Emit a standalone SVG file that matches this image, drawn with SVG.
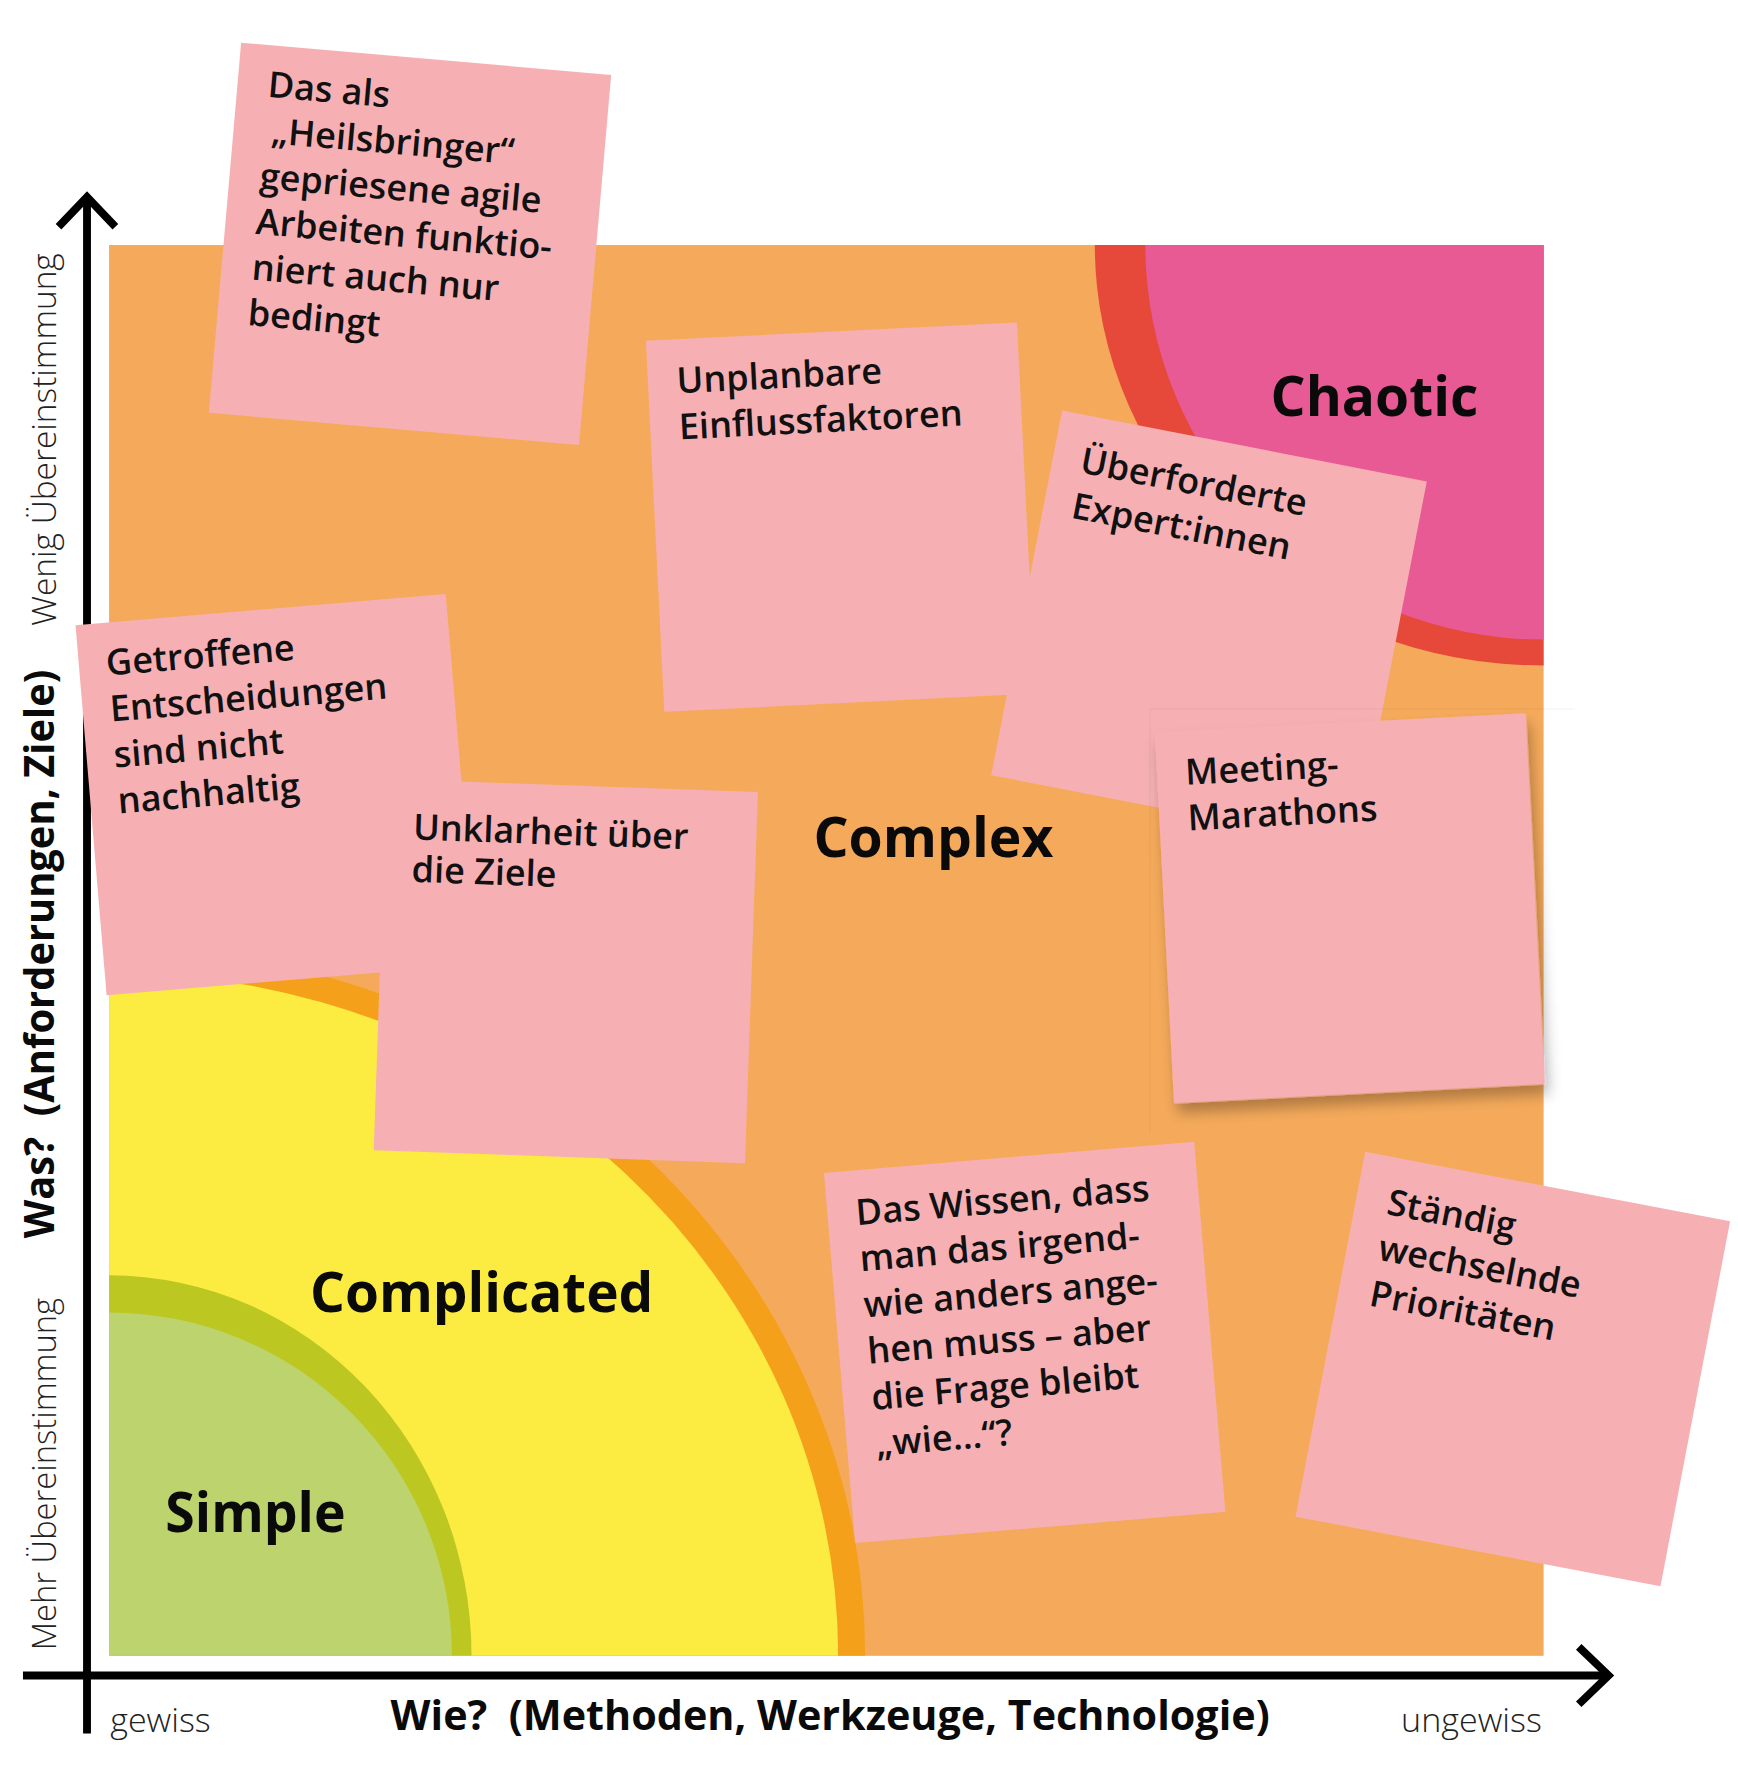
<svg xmlns="http://www.w3.org/2000/svg" width="1738" height="1765" viewBox="0 0 1738 1765">
<style>
.note{fill:#F6B0B4}
.nt{font-family:"Open Sans","Liberation Sans",sans-serif;font-weight:600;font-size:32px;fill:#111}
.region{font-family:"Open Sans","Liberation Sans",sans-serif;font-weight:700;font-size:50px;fill:#0a0a0a}
.axisl{font-family:"Open Sans","Liberation Sans",sans-serif;font-weight:300;font-size:29px;fill:#222}
.axisb{font-family:"Open Sans","Liberation Sans",sans-serif;font-weight:700;font-size:37px;fill:#0a0a0a}
.ax{fill:none;stroke:#000;stroke-width:7}
</style>
<defs>
<clipPath id="plot"><rect x="96.9" y="217.7" width="1274.4" height="1253.3"/></clipPath>
<filter id="shadow" x="-20%" y="-20%" width="140%" height="140%">
<feDropShadow dx="3" dy="9" stdDeviation="6" flood-color="#000" flood-opacity="0.28"/>
</filter>
</defs>
<rect width="1738" height="1765" fill="#fff"/>
<g transform="scale(1.12565)">
<g id="plot-area">
<rect x="96.9" y="217.7" width="1274.4" height="1253.3" fill="#F5AA5B"/>
<g clip-path="url(#plot)">
<ellipse cx="1371.3" cy="217.7" rx="398.7" ry="373.5" fill="#E6493A"/>
<ellipse cx="1371.3" cy="217.7" rx="353.8" ry="350.5" fill="#E85A94"/>
<ellipse cx="96.9" cy="1471" rx="671.7" ry="630" fill="#F5A01B"/>
<ellipse cx="96.9" cy="1471" rx="647.7" ry="607" fill="#FCEC41"/>
<ellipse cx="96.9" cy="1471" rx="322" ry="338" fill="#BCC821"/>
<ellipse cx="96.9" cy="1471" rx="304.6" ry="305" fill="#BDD36D"/>
</g>
</g>
<g id="axes">
<line class="ax" x1="77.3" y1="176" x2="77.3" y2="1540"/>
<polyline class="ax" points="52,201.5 77.3,175 102.5,201.5"/>
<line class="ax" x1="20.4" y1="1488.5" x2="1428" y2="1488.5"/>
<polyline class="ax" points="1402.5,1463 1429,1488.5 1402.5,1514"/>
</g>
<g id="axis-labels">
<text class="axisl" transform="translate(49.5,556) rotate(-90)" textLength="331" lengthAdjust="spacingAndGlyphs">Wenig Übereinstimmung</text>
<text class="axisl" transform="translate(49.5,1466) rotate(-90)" textLength="313" lengthAdjust="spacingAndGlyphs">Mehr Übereinstimmung</text>
<text class="axisb" transform="translate(48.4,1100) rotate(-90)" xml:space="preserve" textLength="505" lengthAdjust="spacingAndGlyphs">Was?  (Anforderungen, Ziele)</text>
<text class="axisl" x="97.9" y="1539" textLength="89.3" lengthAdjust="spacingAndGlyphs">gewiss</text>
<text class="axisl" x="1244.7" y="1538.6" textLength="125" lengthAdjust="spacingAndGlyphs">ungewiss</text>
<text class="axisb" x="347" y="1537.3" xml:space="preserve" textLength="781" lengthAdjust="spacingAndGlyphs">Wie?  (Methoden, Werkzeuge, Technologie)</text>
</g>
<g id="region-labels">
<text id="chaotic" class="region" x="1128.7" y="369.8" textLength="184.6" lengthAdjust="spacingAndGlyphs">Chaotic</text>
<text id="complex" class="region" x="722.6" y="761.6" textLength="213.2" lengthAdjust="spacingAndGlyphs">Complex</text>
<text id="complicated" class="region" x="275.4" y="1165.2" textLength="305" lengthAdjust="spacingAndGlyphs">Complicated</text>
<text id="simple" class="region" x="146.9" y="1361.4" textLength="160.1" lengthAdjust="spacingAndGlyphs">Simple</text>
</g>
<g id="note-heilsbringer" transform="translate(214.2,37.9) rotate(4.98)">
<rect class="note" width="330" height="330"/>
<text class="nt" x="27" y="46">Das als</text>
<text class="nt" x="34" y="86.7">„Heilsbringer“</text>
<text class="nt" x="27" y="127.4">gepriesene agile</text>
<text class="nt" x="27" y="168.1">Arbeiten funktio-</text>
<text class="nt" x="27" y="208.8">niert auch nur</text>
<text class="nt" x="27" y="249.5">bedingt</text>
</g>
<g id="note-unplanbar" transform="translate(573.8,302.8) rotate(-2.85)">
<rect class="note" width="330" height="330"/>
<text class="nt" x="25.5" y="48">Unplanbare</text>
<text class="nt" x="25.5" y="89">Einflussfaktoren</text>
</g>
<g id="note-ueberfordert" transform="translate(943.6,364.7) rotate(11)">
<rect class="note" width="330" height="330"/>
<text class="nt" x="25" y="51">Überforderte</text>
<text class="nt" x="25" y="92">Expert:innen</text>
</g>
<g id="note-meeting">
<path d="M1399,630 H1021.7 V1006" fill="none" stroke="#000" stroke-opacity="0.045" stroke-width="1"/>
<g transform="translate(1026,650.6) rotate(-2.95)">
<rect class="note" width="330" height="330" filter="url(#shadow)"/>
<text class="nt" x="25" y="48">Meeting-</text>
<text class="nt" x="25" y="88.5">Marathons</text>
</g>
</g>
<g id="note-entscheidungen" transform="translate(67.1,555.4) rotate(-4.8)">
<rect class="note" width="330" height="330"/>
<text class="nt" x="24.2" y="47">Getroffene</text>
<text class="nt" x="24.2" y="88">Entscheidungen</text>
<text class="nt" x="24.2" y="129">sind nicht</text>
<text class="nt" x="24.2" y="170">nachhaltig</text>
</g>
<g id="note-ziele" transform="translate(343.5,692) rotate(2)">
<rect class="note" width="330" height="330"/>
<text class="nt" x="25" y="53">Unklarheit über</text>
<text class="nt" x="25" y="90.6">die Ziele</text>
</g>
<g id="note-wissen" transform="translate(732,1042) rotate(-4.82)">
<rect class="note" width="330" height="330"/>
<text class="nt" x="25.2" y="48.7">Das Wissen, dass</text>
<text class="nt" x="25.2" y="89.9">man das irgend-</text>
<text class="nt" x="25.2" y="131.1">wie anders ange-</text>
<text class="nt" x="25.2" y="172.3">hen muss – aber</text>
<text class="nt" x="25.2" y="213.5">die Frage bleibt</text>
<text class="nt" x="25.8" y="254.7">„wie…“?</text>
</g>
<g id="note-prioritaeten" transform="translate(1212.8,1023.2) rotate(10.8)">
<rect class="note" width="330" height="330"/>
<text class="nt" x="28" y="51">Ständig</text>
<text class="nt" x="28" y="92">wechselnde</text>
<text class="nt" x="28" y="133.5">Prioritäten</text>
</g>
</g>
</svg>
